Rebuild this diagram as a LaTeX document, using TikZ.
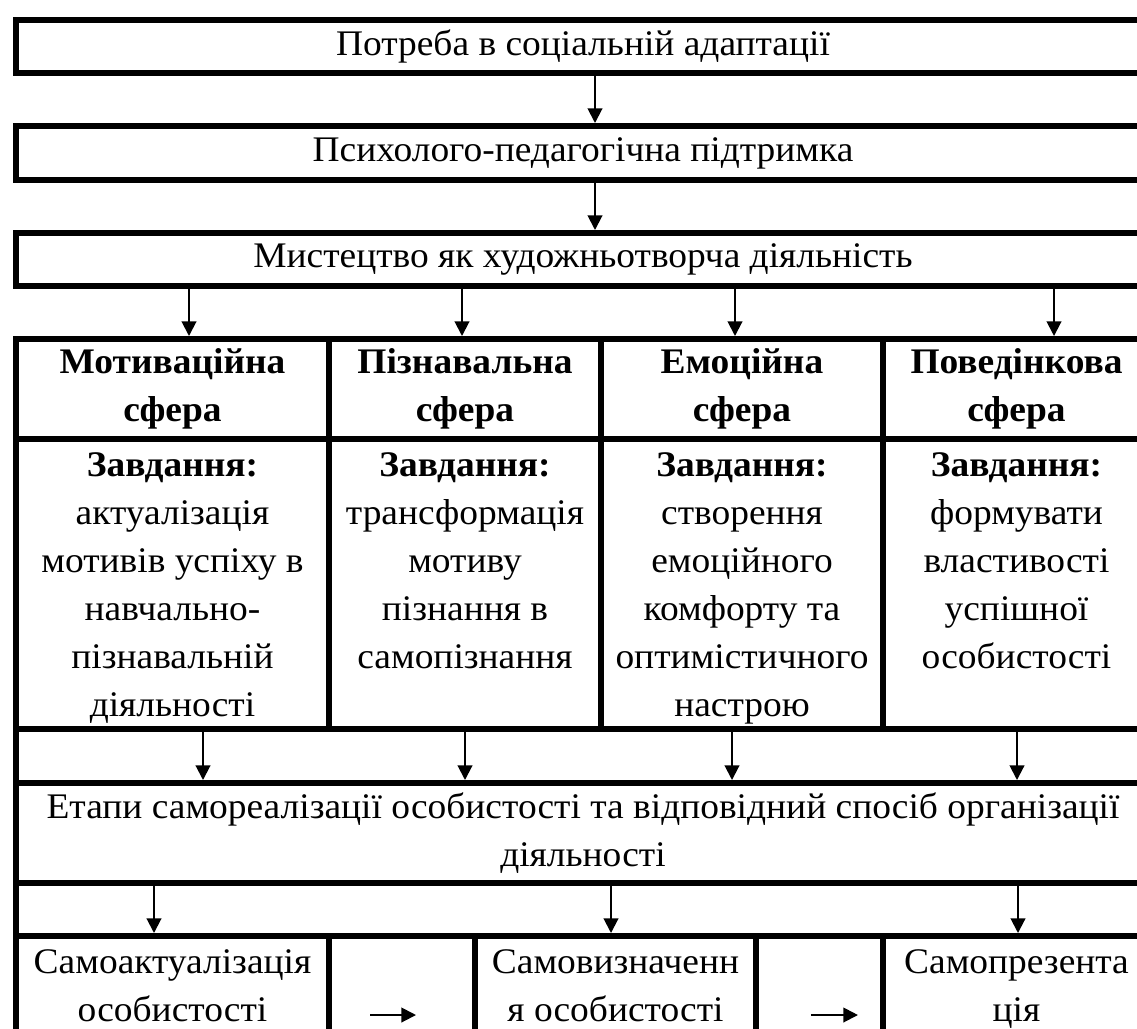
\documentclass[tikz,border=0pt]{standalone}
\usepackage{fontspec}
\setmainfont[FakeStretch=1.04]{Liberation Serif}
\usepackage{tikz}
\usetikzlibrary{positioning}
\usetikzlibrary{arrows.meta}
\newcommand{\bigfont}{\fontsize{27}{36}\selectfont}

\begin{document}
\begin{tikzpicture}[x=0.75pt, y=-0.75pt,
  every node/.style={font=\bigfont},
  cell/.style 2 args={draw, line width=4.5pt, inner sep=0pt, anchor=north west,
    minimum width=#1*0.75pt, minimum height=#2*0.75pt, align=center},
  head/.style={font=\bigfont\bfseries},
  txt/.style={inner sep=0pt, anchor=north, align=center},
  arr/.style={line width=1.5pt, -{Triangle[width=11pt, length=11pt]}}]
  \useasboundingbox (0,0) rectangle (1137,1028);
  \node[cell={1134}{53}] (box1) at (13,17) {Потреба в соціальній адаптації};
  \node[cell={1134}{54}] (box2) at (13,123) {Психолого-педагогічна підтримка};
  \node[cell={1134}{53}] (box3) at (13,230) {Мистецтво як художньотворча діяльність};

  \node[cell={313}{100}, head] (h1) at (13,336) {Мотиваційна\\сфера};
  \node[cell={272}{100}, head] (h2) at (326,336) {Пізнавальна\\сфера};
  \node[cell={282}{100}, head] (h3) at (598,336) {Емоційна\\сфера};
  \node[cell={267}{100}, head] (h4) at (880,336) {Поведінкова\\сфера};

  \node[cell={313}{290}] (t1) at (13,436) {};
  \node[cell={272}{290}] (t2) at (326,436) {};
  \node[cell={282}{290}] (t3) at (598,436) {};
  \node[cell={267}{290}] (t4) at (880,436) {};
  \node[txt] (tt1) at ([yshift=-12pt]t1.north) {\textbf{Завдання:}\\актуалізація\\мотивів успіху в\\навчально-\\пізнавальній\\діяльності};
  \node[txt] (tt2) at ([yshift=-12pt]t2.north) {\textbf{Завдання:}\\трансформація\\мотиву\\пізнання в\\самопізнання};
  \node[txt] (tt3) at ([yshift=-12pt]t3.north) {\textbf{Завдання:}\\створення\\емоційного\\комфорту та\\оптимістичного\\настрою};
  \node[txt] (tt4) at ([yshift=-12pt]t4.north) {\textbf{Завдання:}\\формувати\\властивості\\успішної\\особистості};

  \node[cell={1134}{54}] (s1) at (13,726) {};
  \node[cell={1134}{100}] (etapy) at (13,780) {Етапи самореалізації особистості та відповідний спосіб організації\\діяльності};
  \node[cell={1134}{53}] (s2) at (13,880) {};

  \node[cell={313}{130}] (b1) at (13,933) {};
  \node[cell={146}{130}] (b2) at (326,933) {};
  \node[cell={281}{130}] (b3) at (472,933) {};
  \node[cell={127}{130}] (b4) at (753,933) {};
  \node[cell={267}{130}] (b5) at (880,933) {};
  \node[txt] (bb1) at ([yshift=-12pt]b1.north) {Самоактуалізація\\особистості};
  \node[txt] (bb3) at ([yshift=-12pt]b3.north) {Самовизначенн\\я особистості};
  \node[txt] (bb5) at ([yshift=-12pt]b5.north) {Самопрезента\\ція};

  \draw[arr] ([xshift=9pt]box1.south) -- ([xshift=9pt]box2.north);
  \draw[arr] ([xshift=9pt]box2.south) -- ([xshift=9pt]box3.north);
  \foreach \c/\xx in {h1/189, h2/462, h3/735, h4/1054}
    \draw[arr] (box3.south -| \xx,0) -- (\c.north -| \xx,0);
  \foreach \c/\xx in {t1/203, t2/465, t3/732, t4/1017}
    \draw[arr] (\c.south -| \xx,0) -- (etapy.north -| \xx,0);
  \foreach \c/\xx in {b1/154, b3/611, b5/1018}
    \draw[arr] (etapy.south -| \xx,0) -- (\c.north -| \xx,0);
  \draw[arr] ([xshift=-24pt, yshift=-61.5pt]b2.north) -- ++(34.5pt,0);
  \draw[arr] ([xshift=-6.4pt, yshift=-61.5pt]b4.north) -- ++(35.25pt,0);
\end{tikzpicture}
\end{document}
